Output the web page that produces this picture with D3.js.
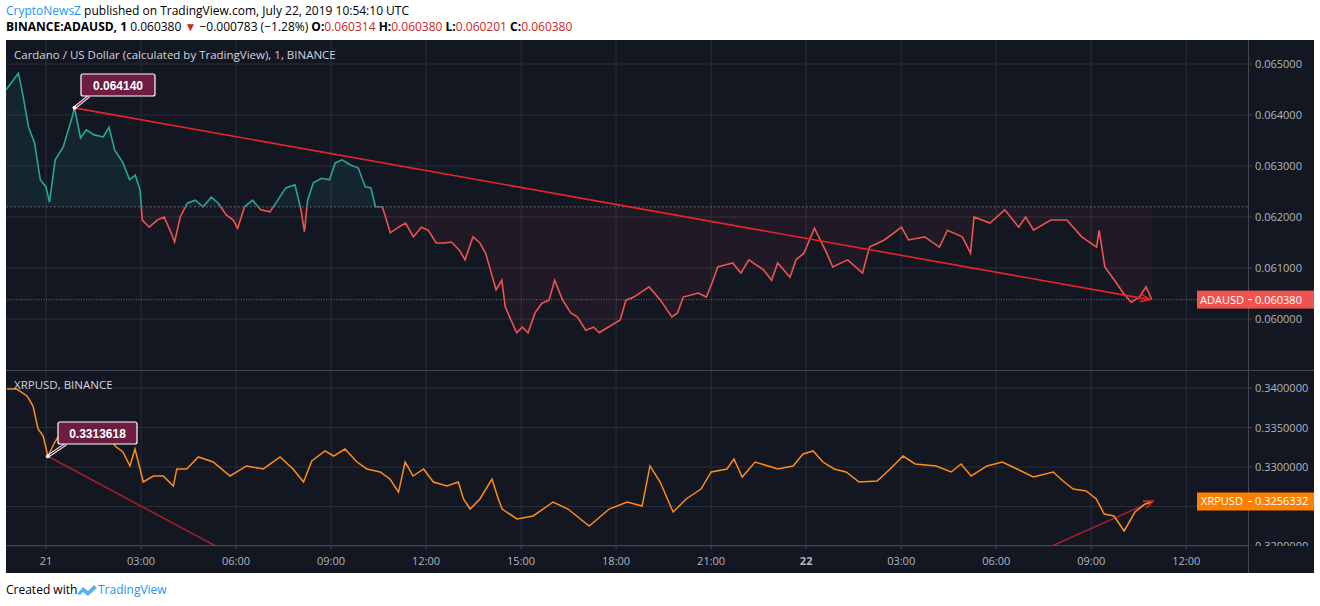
<!DOCTYPE html>
<html><head><meta charset="utf-8">
<script src="https://cdn.jsdelivr.net/npm/d3@7/dist/d3.min.js"></script>
<style>body{margin:0;background:#fff;font-family:"Open Sans","Noto Sans",sans-serif}</style>
</head><body><svg id="c" width="1320" height="606"></svg>
<script>
// hours from 2019-07-21 00:00 UTC
const adaHours=[-1.27,-0.87,-0.73,-0.55,-0.36,-0.18,0.00,0.11,0.29,0.54,0.80,0.90,1.09,1.27,1.52,1.81,1.99,2.17,2.43,2.64,2.82,2.97,3.04,3.26,3.51,3.73,3.95,4.06,4.24,4.46,4.71,4.96,5.22,5.44,5.69,5.91,6.05,6.27,6.52,6.78,7.07,7.32,7.57,7.86,8.05,8.16,8.26,8.44,8.70,8.95,9.13,9.35,9.61,9.86,10.08,10.26,10.40,10.62,10.87,11.13,11.35,11.60,11.85,12.07,12.32,12.58,12.80,13.05,13.23,13.48,13.70,13.88,14.06,14.21,14.39,14.50,14.68,14.86,15.04,15.22,15.44,15.66,15.88,16.06,16.31,16.57,16.78,17.04,17.29,17.47,17.59,18.13,18.31,18.56,19.04,19.40,19.76,19.94,20.12,20.59,20.85,21.03,21.21,21.68,21.94,22.19,22.66,22.91,23.10,23.49,23.68,23.93,24.26,24.65,24.84,25.31,25.78,26.00,26.47,27.01,27.23,27.74,28.21,28.46,28.93,29.19,29.30,29.80,30.27,30.71,30.93,31.18,31.72,32.23,32.70,33.17,33.25,33.43,33.79,34.01,34.26,34.52,34.73,34.91];
const adaPrice=[0.06449,0.06482,0.06439,0.06376,0.06345,0.06273,0.06259,0.06229,0.06312,0.06337,0.06390,0.06414,0.06355,0.06371,0.06361,0.06357,0.06376,0.06331,0.06306,0.06273,0.06282,0.06253,0.06194,0.06180,0.06194,0.06200,0.06169,0.06151,0.06200,0.06227,0.06233,0.06220,0.06239,0.06227,0.06204,0.06194,0.06178,0.06220,0.06233,0.06214,0.06210,0.06233,0.06257,0.06263,0.06214,0.06171,0.06233,0.06267,0.06276,0.06273,0.06306,0.06312,0.06302,0.06296,0.06259,0.06257,0.06220,0.06220,0.06169,0.06180,0.06188,0.06161,0.06180,0.06174,0.06149,0.06149,0.06151,0.06135,0.06116,0.06161,0.06149,0.06129,0.06090,0.06057,0.06076,0.06024,0.05998,0.05973,0.05984,0.05973,0.06012,0.06031,0.06037,0.06076,0.06037,0.06012,0.06004,0.05978,0.05984,0.05973,0.05978,0.05998,0.06037,0.06043,0.06063,0.06037,0.06004,0.06012,0.06043,0.06051,0.06043,0.06071,0.06102,0.06110,0.06090,0.06116,0.06096,0.06076,0.06110,0.06082,0.06116,0.06129,0.06178,0.06129,0.06102,0.06116,0.06090,0.06141,0.06155,0.06180,0.06155,0.06161,0.06141,0.06174,0.06161,0.06129,0.06200,0.06188,0.06214,0.06180,0.06200,0.06174,0.06194,0.06194,0.06161,0.06141,0.06174,0.06102,0.06071,0.06051,0.06033,0.06043,0.06063,0.06038];
const xrpHours=[-1.23,-0.92,-0.60,-0.41,-0.25,-0.09,0.06,0.28,0.54,0.98,1.48,1.93,2.18,2.43,2.65,2.81,2.97,3.07,3.39,3.70,4.02,4.13,4.44,4.81,5.28,5.81,6.33,6.86,7.39,7.80,8.13,8.39,8.81,9.08,9.44,9.82,10.13,10.55,10.86,11.13,11.34,11.59,11.92,12.23,12.66,13.02,13.18,13.39,13.70,14.08,14.28,14.40,14.87,15.38,16.01,16.48,17.15,17.78,18.35,18.82,19.07,19.39,19.80,20.21,20.68,21.00,21.50,21.72,21.98,22.39,23.11,23.59,23.90,24.22,24.53,24.88,25.26,25.67,26.24,26.65,27.06,27.44,28.10,28.58,28.89,29.21,29.71,30.19,30.66,31.17,31.80,32.11,32.43,32.84,33.16,33.41,33.72,34.04,34.38,34.70,34.95];
const xrpPrice=[0.33987,0.33987,0.33899,0.33772,0.33481,0.33392,0.33136,0.33316,0.33481,0.33519,0.33544,0.33519,0.33266,0.33190,0.33013,0.33228,0.32975,0.32810,0.32886,0.32886,0.32759,0.32975,0.32975,0.33127,0.33063,0.32886,0.33013,0.32975,0.33127,0.32975,0.32810,0.33076,0.33203,0.33139,0.33228,0.33063,0.32975,0.32937,0.32848,0.32683,0.33063,0.32886,0.32975,0.32810,0.32759,0.32810,0.32595,0.32468,0.32595,0.32848,0.32595,0.32468,0.32342,0.32380,0.32557,0.32468,0.32253,0.32468,0.32557,0.32506,0.33013,0.32810,0.32430,0.32595,0.32721,0.32937,0.32975,0.33101,0.32873,0.33063,0.32975,0.33013,0.33165,0.33203,0.33063,0.32975,0.32937,0.32810,0.32823,0.32975,0.33139,0.33038,0.33013,0.32937,0.33038,0.32886,0.33013,0.33063,0.32975,0.32873,0.32937,0.32823,0.32721,0.32696,0.32595,0.32405,0.32380,0.32190,0.32430,0.32532,0.32563];
const timeTicks=[0,3,6,9,12,15,18,21,24,27,30,33,36];
const timeLabels=["21","03:00","06:00","09:00","12:00","15:00","18:00","21:00","22","03:00","06:00","09:00","12:00"];
const adaTicks=[0.060,0.061,0.062,0.063,0.064,0.065];
const xrpTicks=[0.320,0.325,0.330,0.335,0.340];
const adaBase=0.0622, adaLast=0.060380, xrpLast=0.3256332;
const adaTrend=[[0.90,0.06414],[34.85,0.06038]];
const xrpTrend1=[[0.06,0.33136],[5.40,0.3199]];
const xrpTrend2=[[31.7,0.3199],[34.95,0.3257]];

const svg=d3.select("#c");
const L=6,R=1314,AX=1248,T=40,MID=370,BOT=545,FB=573;
const grid="#2a2e39",axc="#b2b5be";
const x=d3.scaleLinear().domain([-1.263,37.95]).range([L,AX]);
const y1=d3.scaleLinear().domain([0.060,0.065]).range([319,64]);
const y2=d3.scaleLinear().domain([0.320,0.340]).range([546,388]);

svg.append("rect").attr("x",L).attr("y",T).attr("width",R-L).attr("height",FB-T).attr("fill","#131722");
const defs=svg.append("defs");
defs.append("clipPath").attr("id","p1").append("rect").attr("x",L).attr("y",T).attr("width",AX-L).attr("height",MID-T);
defs.append("clipPath").attr("id","p2").append("rect").attr("x",L).attr("y",MID+1).attr("width",AX-L).attr("height",BOT-MID-1);
defs.append("clipPath").attr("id","above").append("rect").attr("x",L).attr("y",T).attr("width",AX-L).attr("height",y1(adaBase)-T);
defs.append("clipPath").attr("id","below").append("rect").attr("x",L).attr("y",y1(adaBase)).attr("width",AX-L).attr("height",MID-y1(adaBase));
defs.append("clipPath").attr("id","rax2").append("rect").attr("x",AX).attr("y",MID+1).attr("width",R-AX).attr("height",BOT-MID);

// grids
const g=svg.append("g");
timeTicks.forEach(t=>{g.append("line").attr("x1",x(t)).attr("x2",x(t)).attr("y1",T).attr("y2",BOT).attr("stroke",grid);});
adaTicks.forEach(v=>g.append("line").attr("x1",L).attr("x2",AX).attr("y1",y1(v)).attr("y2",y1(v)).attr("stroke",grid));
xrpTicks.forEach(v=>g.append("line").attr("x1",L).attr("x2",AX).attr("y1",y2(v)).attr("y2",y2(v)).attr("stroke",grid));

// ADA
const ada=adaHours.map((h,i)=>[h,adaPrice[i]]);
const ln1=d3.line().x(d=>x(d[0])).y(d=>y1(d[1]));
const ar1=d3.area().x(d=>x(d[0])).y0(y1(adaBase)).y1(d=>y1(d[1]));
const p1=svg.append("g").attr("clip-path","url(#p1)");
p1.append("path").attr("d",ar1(ada)).attr("fill","rgba(38,166,154,0.10)").attr("clip-path","url(#above)");
p1.append("path").attr("d",ar1(ada)).attr("fill","rgba(239,83,80,0.06)").attr("clip-path","url(#below)");
p1.append("line").attr("x1",L).attr("x2",AX).attr("y1",y1(adaBase)).attr("y2",y1(adaBase)).attr("stroke","#787b86").attr("stroke-dasharray","1.5,2.5");
p1.append("line").attr("x1",L).attr("x2",AX).attr("y1",y1(adaLast)).attr("y2",y1(adaLast)).attr("stroke","#ef5350").attr("stroke-dasharray","1,1.5").attr("stroke-width",0.8);
p1.append("path").attr("d",ln1(ada)).attr("fill","none").attr("stroke","#26a69a").attr("stroke-width",1.6).attr("clip-path","url(#above)");
p1.append("path").attr("d",ln1(ada)).attr("fill","none").attr("stroke","#ef5350").attr("stroke-width",1.6).attr("clip-path","url(#below)");
p1.append("path").attr("d",ln1(adaTrend)).attr("stroke","#e8242b").attr("stroke-width",1.6).attr("fill","none");
function arrow(gp,pts,ys,col){const a=pts[0],b=pts[1];const x0=x(a[0]),yy0=ys(a[1]),x1=x(b[0]),yy1=ys(b[1]);const ang=Math.atan2(yy1-yy0,x1-x0);const s=10;
 gp.append("path").attr("d",`M${x1-s*Math.cos(ang-0.4)},${yy1-s*Math.sin(ang-0.4)}L${x1},${yy1}L${x1-s*Math.cos(ang+0.4)},${yy1-s*Math.sin(ang+0.4)}`).attr("stroke",col).attr("stroke-width",1.6).attr("fill","none");}
arrow(p1,adaTrend,y1,"#e8242b");
function callout(gp,px,py,bx,by,w,txt){gp.append("line").attr("x1",px).attr("y1",py).attr("x2",bx+8).attr("y2",by+22).attr("stroke","#fff").attr("stroke-width",3);
 gp.append("line").attr("x1",px).attr("y1",py).attr("x2",bx+8).attr("y2",by+22).attr("stroke","#6d1c42").attr("stroke-width",1.2);
 gp.append("rect").attr("x",bx).attr("y",by).attr("width",w).attr("height",22).attr("rx",2).attr("fill","#6d1c42").attr("stroke","#fff").attr("stroke-width",1.2);
 gp.append("text").attr("x",bx+w/2).attr("y",by+15.5).attr("text-anchor","middle").attr("fill","#fff").attr("font-size",12).attr("font-weight","bold").attr("font-family","Arial, Liberation Sans, sans-serif").text(txt);
 gp.append("circle").attr("cx",px).attr("cy",py).attr("r",2).attr("fill","#fff");}
callout(svg,x(adaTrend[0][0]),y1(adaTrend[0][1]),81,74,74,"0.064140");

// XRP
const xrp=xrpHours.map((h,i)=>[h,xrpPrice[i]]);
const ln2=d3.line().x(d=>x(d[0])).y(d=>y2(d[1]));
const p2=svg.append("g").attr("clip-path","url(#p2)");
p2.append("path").attr("d",ln2(xrpTrend1)).attr("stroke","#a31e2a").attr("stroke-width",1.6).attr("fill","none");
p2.append("path").attr("d",ln2(xrpTrend2)).attr("stroke","#a31e2a").attr("stroke-width",1.6).attr("fill","none");
p2.append("path").attr("d",ln2(xrp)).attr("fill","none").attr("stroke","#ff8c1a").attr("stroke-width",1.5);
arrow(p2,xrpTrend2,y2,"#c62828");
callout(svg,x(xrpTrend1[0][0]),y2(xrpTrend1[0][1]),58,422,79,"0.3313618");

// borders
svg.append("line").attr("x1",L).attr("x2",R).attr("y1",MID+0.5).attr("y2",MID+0.5).attr("stroke","#434651");
svg.append("line").attr("x1",AX+0.5).attr("x2",AX+0.5).attr("y1",T).attr("y2",FB).attr("stroke","#434651");
svg.append("line").attr("x1",L).attr("x2",AX).attr("y1",BOT+0.5).attr("y2",BOT+0.5).attr("stroke","#434651");

// axes text
const ff="'Open Sans','Noto Sans',sans-serif";
adaTicks.forEach(v=>{svg.append("line").attr("x1",AX).attr("x2",AX+4).attr("y1",y1(v)).attr("y2",y1(v)).attr("stroke","#434651");
 svg.append("text").attr("x",AX+7).attr("y",y1(v)+4).attr("fill",axc).attr("font-size",11).attr("font-family",ff).text(v.toFixed(6));});
const yr=svg.append("g").attr("clip-path","url(#rax2)");
xrpTicks.filter(v=>Math.abs(y2(v)-y2(xrpLast))>14).forEach(v=>{yr.append("line").attr("x1",AX).attr("x2",AX+4).attr("y1",y2(v)).attr("y2",y2(v)).attr("stroke","#434651");
 yr.append("text").attr("x",AX+7).attr("y",y2(v)+4).attr("fill",axc).attr("font-size",11).attr("font-family",ff).text(v.toFixed(7));});
timeTicks.forEach((t,i)=>{svg.append("line").attr("x1",x(t)).attr("x2",x(t)).attr("y1",BOT).attr("y2",BOT+4).attr("stroke","#434651");
 svg.append("text").attr("x",x(t)).attr("y",565).attr("text-anchor","middle").attr("fill",axc).attr("font-size",11).attr("font-family",ff).attr("font-weight",(timeLabels[i]=="22")?"bold":"normal").text(timeLabels[i]);});
function plabel(yv,name,val,col){svg.append("rect").attr("x",1197).attr("y",yv-9).attr("width",R-1197).attr("height",18).attr("fill",col);
 svg.append("text").attr("x",1222).attr("y",yv+4).attr("text-anchor","middle").attr("fill","#fff").attr("font-size",11).attr("font-family",ff).text(name);
 svg.append("line").attr("x1",AX).attr("x2",AX+4).attr("y1",yv).attr("y2",yv).attr("stroke","#fff");
 svg.append("text").attr("x",AX+7).attr("y",yv+4).attr("fill","#fff").attr("font-size",11).attr("font-family",ff).text(val);}
plabel(y1(adaLast),"ADAUSD","0.060380","#ef5350");
plabel(y2(xrpLast),"XRPUSD","0.3256332","#ff8000");
svg.append("text").attr("x",14).attr("y",59).attr("fill","#d1d4dc").attr("font-size",11.5).attr("font-family",ff).text("Cardano / US Dollar (calculated by TradingView), 1, BINANCE");
svg.append("text").attr("x",14).attr("y",389).attr("fill","#d1d4dc").attr("font-size",11.5).attr("font-family",ff).text("XRPUSD, BINANCE");

// header
const h1=svg.append("text").attr("x",6).attr("y",15).attr("font-size",12).attr("font-family",ff);
h1.append("tspan").attr("fill","#2196f3").text("CryptoNewsZ");
h1.append("tspan").attr("fill","#000").text(" published on TradingView.com, July 22, 2019 10:54:10 UTC");
const h2=svg.append("text").attr("x",6).attr("y",31).attr("font-size",12).attr("font-family",ff).attr("fill","#000");
h2.append("tspan").attr("font-weight","bold").text("BINANCE:ADAUSD, 1");
h2.append("tspan").text(" 0.060380 ");
h2.append("tspan").attr("fill","#c62828").text("▼");
h2.append("tspan").text(" −0.000783 (−1.28%) ");
[["O:","0.060314"],["H:","0.060380"],["L:","0.060201"],["C:","0.060380"]].forEach(([k,v])=>{h2.append("tspan").attr("font-weight","bold").text(k);h2.append("tspan").attr("fill","#c62828").text(v+" ");});
// footer
svg.append("text").attr("x",6).attr("y",594).attr("font-size",12).attr("font-family",ff).attr("fill","#000").text("Created with");
svg.append("path").attr("d","M77,594 l6,-7 l5,4 l6,-6 l3,3 l-9,8 l-5,-4 l-3,3z").attr("fill","#5bb4e6");
svg.append("text").attr("x",98).attr("y",594).attr("font-size",12).attr("font-family",ff).attr("fill","#2196f3").text("TradingView");
</script></body></html>
